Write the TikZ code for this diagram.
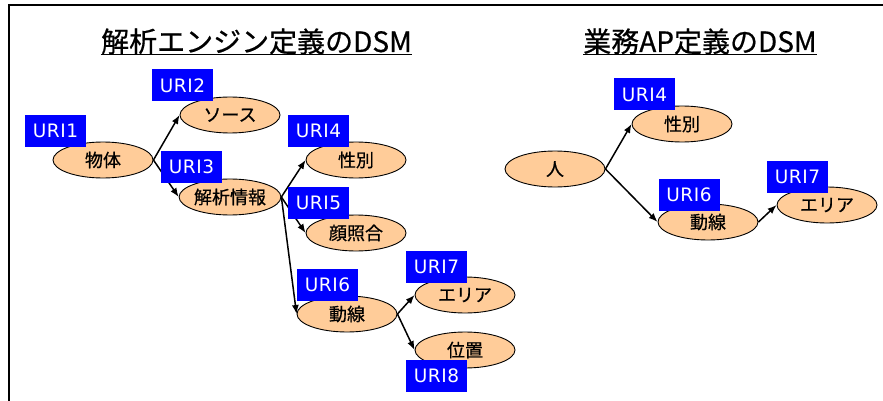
\documentclass[tikz,border=0pt]{standalone}
\usepackage{fontspec}
\setmainfont{Noto Sans CJK JP}
\newfontfamily\entfont[FakeBold=0.6]{Noto Sans CJK JP}
\newfontfamily\ttlfont[FakeBold=0.6]{Noto Sans CJK JP}
\newfontfamily\urifont[LetterSpace=3]{DejaVu Sans}
\usetikzlibrary{shapes.geometric,arrows.meta}
\definecolor{peach}{HTML}{FFCC99}
\definecolor{uriblue}{HTML}{0000FF}
\tikzset{
  ent/.style={ellipse,draw=black,line width=0.9pt,fill=peach,minimum width=100pt,minimum height=36pt,inner sep=0pt,font=\entfont\fontsize{18}{20}\selectfont},
  uri/.style={rectangle,fill=uriblue,text=white,minimum width=61pt,minimum height=32pt,inner sep=0pt,font=\urifont\fontsize{18.5}{20}\selectfont},
  conn/.style={-{Latex[length=9pt,width=7pt]},line width=1.5pt},
  ttl/.style={anchor=base,inner sep=0pt,font=\ttlfont\fontsize{28}{30}\selectfont},
  frame/.style={line width=2pt}
}
\begin{document}
\begin{tikzpicture}[x=1pt,y=-1pt]
\useasboundingbox (0,0) rectangle (883,401);
% frame
\coordinate (fl) at (9,401);
\coordinate (fc) at (9,5);
\coordinate (fr) at (883,5);
\draw[frame] (fl) -- (fc) -- (fr);
% titles
\node[ttl] (t1) at (256.5,52) {解析エンジン定義のDSM};
\draw[line width=1.5pt] ([yshift=-2.5pt]t1.base west) -- ([yshift=-2.5pt]t1.base east);
\node[ttl] (t2) at (700,52) {業務AP定義のDSM};
\draw[line width=1.5pt] ([yshift=-2.5pt]t2.base west) -- ([yshift=-2.5pt]t2.base east);
% left entities
\node[ent] (buttai) at (103,160) {物体};
\node[ent] (source) at (230,115) {ソース};
\node[ent] (kaiseki) at (230,197) {解析情報};
\node[ent] (seibetsuL) at (356,160) {性別};
\node[ent] (kao) at (356,233) {顔照合};
\node[ent] (dousenL) at (347,314) {動線};
\node[ent] (areaL) at (465,295) {エリア};
\node[ent] (ichi) at (465,350) {位置};
% right entities
\node[ent] (hito) at (555,169) {人};
\node[ent] (seibetsuR) at (682,124) {性別};
\node[ent] (dousenR) at (708,222) {動線};
\node[ent] (areaR) at (827,205) {エリア};
% connectors
\draw[conn] (buttai.east) -- (source.west);
\draw[conn] (buttai.east) -- (kaiseki.west);
\draw[conn] (kaiseki.east) -- (seibetsuL.west);
\draw[conn] (kaiseki.east) -- (kao.west);
\draw[conn] (kaiseki.east) -- (dousenL.west);
\draw[conn] (dousenL.east) -- (areaL.west);
\draw[conn] (dousenL.east) -- (ichi.west);
\draw[conn] (hito.east) -- (seibetsuR.west);
\draw[conn] (hito.east) -- (dousenR.west);
\draw[conn] (dousenR.east) -- (areaR.west);
% URI labels
\node[uri] (u1) at (55.5,131) {URI1};
\node[uri] (u2) at (182.5,85.5) {URI2};
\node[uri] (u3) at (191.5,167) {URI3};
\node[uri] (u4L) at (318.5,131) {URI4};
\node[uri] (u5) at (318.5,203) {URI5};
\node[uri] (u6L) at (327.5,284.5) {URI6};
\node[uri] (u7L) at (436.5,266.5) {URI7};
\node[uri] (u8) at (436.5,375.5) {URI8};
\node[uri] (u4R) at (644.5,94.5) {URI4};
\node[uri] (u6R) at (689,194.5) {URI6};
\node[uri] (u7R) at (797.5,176.5) {URI7};
\end{tikzpicture}
\end{document}
